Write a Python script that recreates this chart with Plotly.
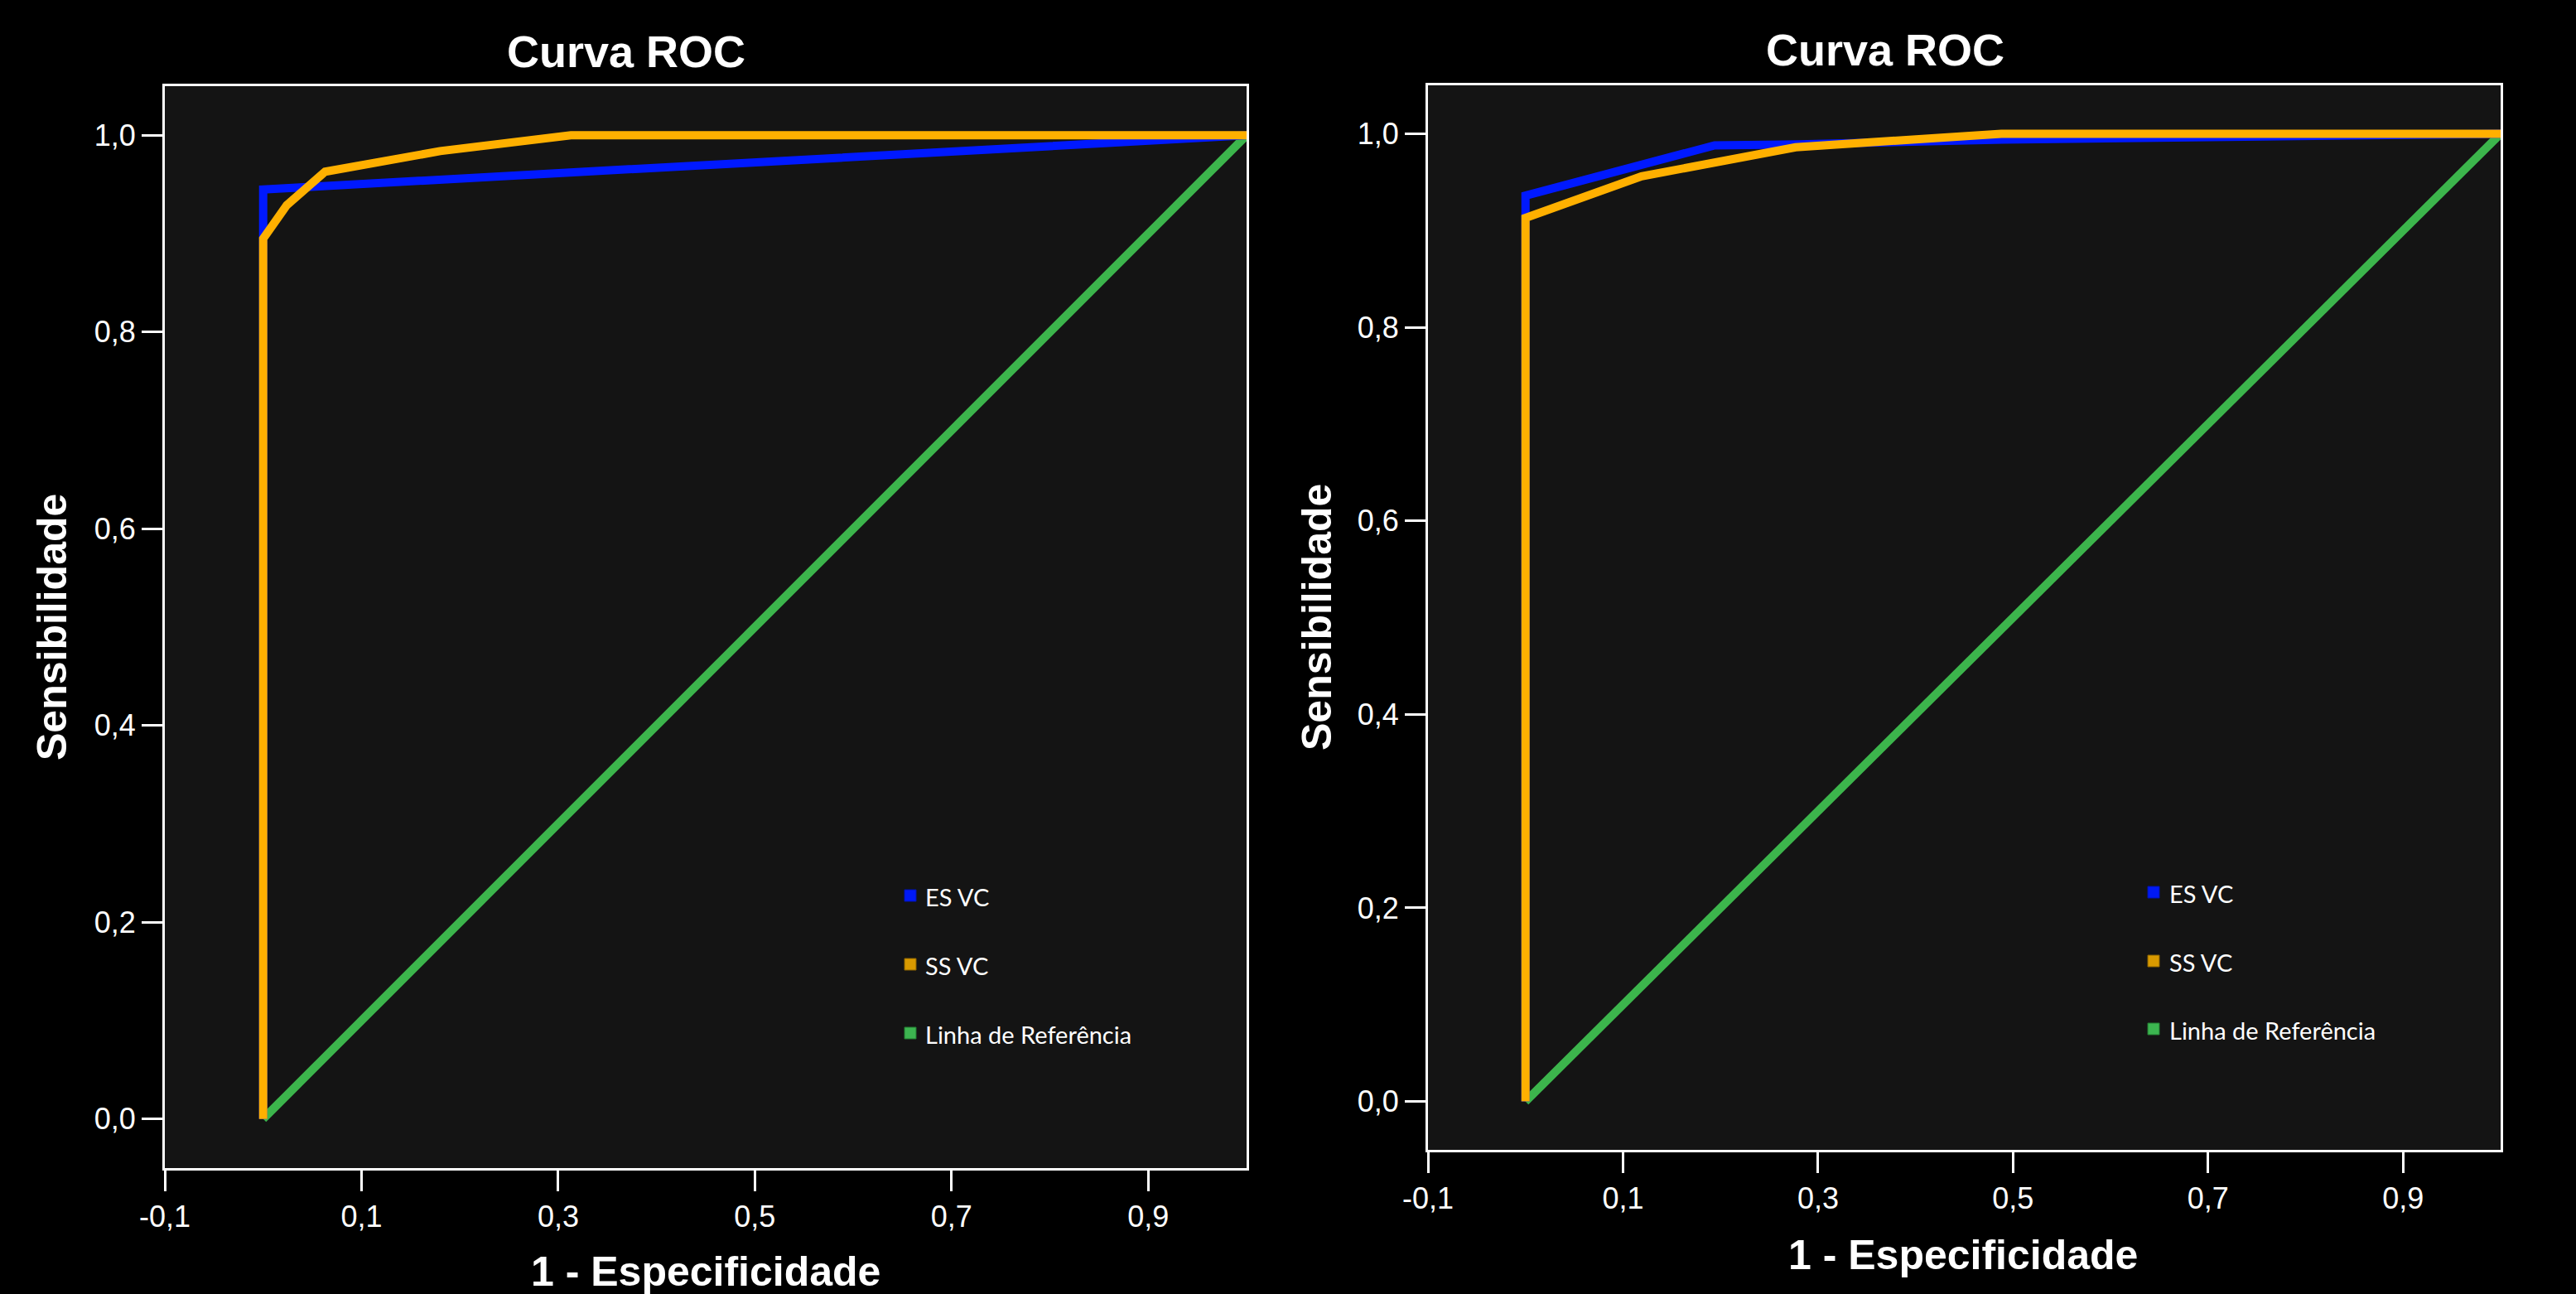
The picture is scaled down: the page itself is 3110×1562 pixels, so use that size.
import plotly.graph_objects as go

W, H = 3110, 1562

# ---- data ----
left_es_x = [0.0, 0.0, 1.0]
left_es_y = [0.0, 0.945, 1.0]
left_ss_x = [0.0, 0.0, 0.024, 0.063, 0.18, 0.313, 1.0]
left_ss_y = [0.0, 0.895, 0.929, 0.963, 0.984, 1.0, 1.0]

right_es_x = [0.0, 0.0, 0.194, 0.28, 0.49, 1.0]
right_es_y = [0.0, 0.936, 0.988, 0.989, 0.994, 1.0]
right_ss_x = [0.0, 0.0, 0.119, 0.277, 0.488, 1.0]
right_ss_y = [0.0, 0.913, 0.956, 0.986, 1.0, 1.0]

ref_x = [0.0, 1.0]
ref_y = [0.0, 1.0]

x_tickvals = [-0.1, 0.1, 0.3, 0.5, 0.7, 0.9]
x_ticktext = ["-0,1", "0,1", "0,3", "0,5", "0,7", "0,9"]
y_tickvals = [0.0, 0.2, 0.4, 0.6, 0.8, 1.0]
y_ticktext = ["0,0", "0,2", "0,4", "0,6", "0,8", "1,0"]

series_names = ["ES VC", "SS VC", "Linha de Referência"]
title_text = "Curva ROC"
x_title = "1 - Especificidade"
y_title = "Sensibilidade"

# ---- styles ----
BLUE = "#0019ff"
ORANGE = "#ffb000"
GREEN = "#3cb54c"
LEG_COLORS = ["#0019f5", "#d99a00", "#3cb550"]
LEG_BORDERS = ["#0012b0", "#8a6200", "#237a30"]
PLOT_BG = "#141414"
AXFONT = "Liberation Sans, Arial, sans-serif"


def px(x):
    return x / W


def py(y):
    return 1 - y / H


fig = go.Figure()

panels = [
    dict(xs="x", ys="y", es=(left_es_x, left_es_y), ss=(left_ss_x, left_ss_y),
         box=(199, 1505, 104, 1410), title=(756, 62), xt=(852, 1535), yt=(63, 757),
         leg_sq_x=1092, leg_text_x=1115, leg_rows=[1081, 1164, 1247]),
    dict(xs="x2", ys="y2", es=(right_es_x, right_es_y), ss=(right_ss_x, right_ss_y),
         box=(1724, 3019, 103, 1388), title=(2276, 60), xt=(2370, 1515), yt=(1590, 745),
         leg_sq_x=2593, leg_text_x=2617, leg_rows=[1077, 1160, 1242]),
]

shapes = []
annotations = []

for i, p in enumerate(panels):
    fig.add_trace(go.Scatter(x=ref_x, y=ref_y, mode="lines", xaxis=p["xs"], yaxis=p["ys"],
                             line=dict(color=GREEN, width=10), name=series_names[2],
                             showlegend=False))
    fig.add_trace(go.Scatter(x=p["es"][0], y=p["es"][1], mode="lines", xaxis=p["xs"], yaxis=p["ys"],
                             line=dict(color=BLUE, width=10), name=series_names[0],
                             showlegend=False))
    fig.add_trace(go.Scatter(x=p["ss"][0], y=p["ss"][1], mode="lines", xaxis=p["xs"], yaxis=p["ys"],
                             line=dict(color=ORANGE, width=10), name=series_names[1],
                             showlegend=False))

    x0, x1, y0, y1 = p["box"]
    axis_common = dict(showline=True, linecolor="white", linewidth=3, mirror=True,
                       ticks="outside", ticklen=25, tickwidth=3, tickcolor="white",
                       showgrid=False, zeroline=False, automargin=False,
                       tickfont=dict(family=AXFONT, size=36, color="white"))
    xa = dict(domain=[px(x0), px(x1)], range=[-0.1, 1.0], tickvals=x_tickvals,
              ticktext=x_ticktext, anchor=p["ys"], ticklabelstandoff=0, **axis_common)
    ya = dict(domain=[py(y1), py(y0)], range=[-0.05, 1.05], tickvals=y_tickvals,
              ticktext=y_ticktext, anchor=p["xs"], ticklabelstandoff=0, **axis_common)
    suffix = "" if i == 0 else "2"
    fig.update_layout(**{"xaxis" + suffix: xa, "yaxis" + suffix: ya})

    annotations.append(dict(text="<b>%s</b>" % title_text, x=px(p["title"][0]), y=py(p["title"][1]),
                            xref="paper", yref="paper", xanchor="center", yanchor="middle",
                            showarrow=False, font=dict(family=AXFONT, size=54, color="white")))
    annotations.append(dict(text="<b>%s</b>" % x_title, x=px(p["xt"][0]), y=py(p["xt"][1]),
                            xref="paper", yref="paper", xanchor="center", yanchor="middle",
                            showarrow=False, font=dict(family=AXFONT, size=50, color="white")))
    annotations.append(dict(text="<b>%s</b>" % y_title, x=px(p["yt"][0]), y=py(p["yt"][1]),
                            xref="paper", yref="paper", xanchor="center", yanchor="middle",
                            textangle=-90, showarrow=False,
                            font=dict(family=AXFONT, size=50, color="white")))

    for k, yc in enumerate(p["leg_rows"]):
        sx = p["leg_sq_x"]
        shapes.append(dict(type="rect", xref="paper", yref="paper",
                           x0=px(sx), x1=px(sx + 14), y0=py(yc + 7), y1=py(yc - 7),
                           fillcolor=LEG_COLORS[k], line=dict(color=LEG_BORDERS[k], width=1)))
        annotations.append(dict(text=series_names[k], x=px(p["leg_text_x"]), y=py(yc + 1),
                                xref="paper", yref="paper", xanchor="left", yanchor="middle",
                                showarrow=False, font=dict(family="Lato, sans-serif", size=29, color="white")))

fig.update_layout(width=W, height=H, margin=dict(l=0, r=0, t=0, b=0, autoexpand=False),
                  paper_bgcolor="black", plot_bgcolor=PLOT_BG,
                  shapes=shapes, annotations=annotations, showlegend=False)

fig.write_html("out.html", config={"displayModeBar": False},
               post_script="document.body.style.margin='0';document.body.style.overflow='hidden';")
